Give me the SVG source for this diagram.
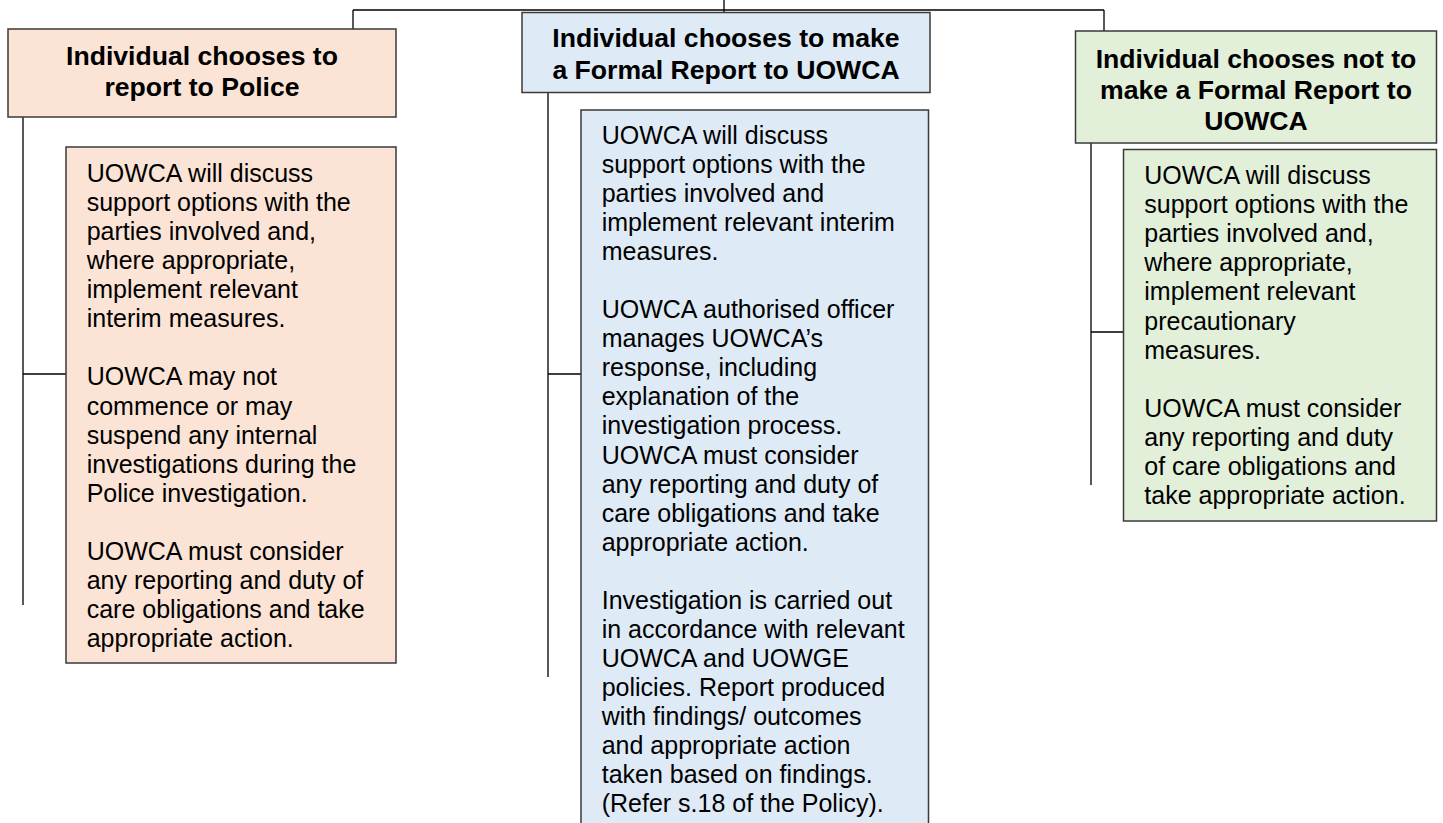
<svg xmlns="http://www.w3.org/2000/svg" width="1443" height="823" viewBox="0 0 1443 823">
<style>
.box{stroke:#3a3a3a;stroke-width:1.5}
.peach{fill:#FBE4D5}
.blue{fill:#DEEAF6}
.green{fill:#E2EFD9}
.hd{font-family:"Liberation Sans",Arial,sans-serif;font-weight:bold;font-size:26.6px;fill:#000;text-anchor:middle}
.bd{font-family:"Liberation Sans",Arial,sans-serif;font-size:25px;fill:#000}
.conn{stroke:#000;stroke-width:1.3;fill:none}
</style>
<rect width="1443" height="823" fill="#fff"/>
<g id="connectors">
<path class="conn" d="M353,10 H1104 M353,10 V29 M724,0 V12 M1104,10 V31"/>
<path class="conn" d="M23,117 V605 M23,374 H66"/>
<path class="conn" d="M548,93 V677 M548,374 H581"/>
<path class="conn" d="M1091,143 V485 M1091,332 H1123"/>
</g>
<g id="police-header">
<rect class="box peach" x="8" y="29" width="388" height="88"/>
<text class="hd"><tspan x="202" y="65">Individual chooses to</tspan><tspan x="202" y="95.7">report to Police</tspan></text>
</g>
<g id="police-body">
<rect class="box peach" x="66" y="147" width="330" height="516"/>
<text class="bd">
<tspan x="86.7" y="181.7">UOWCA will discuss</tspan>
<tspan x="86.7" dy="29.1">support options with the</tspan>
<tspan x="86.7" dy="29.1">parties involved and,</tspan>
<tspan x="86.7" dy="29.1">where appropriate,</tspan>
<tspan x="86.7" dy="29.1">implement relevant</tspan>
<tspan x="86.7" dy="29.1">interim measures.</tspan>
<tspan x="86.7" dy="58.2">UOWCA may not</tspan>
<tspan x="86.7" dy="29.1">commence or may</tspan>
<tspan x="86.7" dy="29.1">suspend any internal</tspan>
<tspan x="86.7" dy="29.1">investigations during the</tspan>
<tspan x="86.7" dy="29.1">Police investigation.</tspan>
<tspan x="86.7" dy="58.2">UOWCA must consider</tspan>
<tspan x="86.7" dy="29.1">any reporting and duty of</tspan>
<tspan x="86.7" dy="29.1">care obligations and take</tspan>
<tspan x="86.7" dy="29.1">appropriate action.</tspan>
</text>
</g>
<g id="formal-header">
<rect class="box blue" x="522" y="12.5" width="408" height="80"/>
<text class="hd"><tspan x="726" y="47">Individual chooses to make</tspan><tspan x="726" y="79">a Formal Report to UOWCA</tspan></text>
</g>
<g id="formal-body">
<rect class="box blue" x="581" y="110" width="347.5" height="730"/>
<text class="bd">
<tspan x="601.7" y="144">UOWCA will discuss</tspan>
<tspan x="601.7" dy="29.05">support options with the</tspan>
<tspan x="601.7" dy="29.05">parties involved and</tspan>
<tspan x="601.7" dy="29.05">implement relevant interim</tspan>
<tspan x="601.7" dy="29.05">measures.</tspan>
<tspan x="601.7" dy="58.1">UOWCA authorised officer</tspan>
<tspan x="601.7" dy="29.05">manages UOWCA’s</tspan>
<tspan x="601.7" dy="29.05">response, including</tspan>
<tspan x="601.7" dy="29.05">explanation of the</tspan>
<tspan x="601.7" dy="29.05">investigation process.</tspan>
<tspan x="601.7" dy="29.05">UOWCA must consider</tspan>
<tspan x="601.7" dy="29.05">any reporting and duty of</tspan>
<tspan x="601.7" dy="29.05">care obligations and take</tspan>
<tspan x="601.7" dy="29.05">appropriate action.</tspan>
<tspan x="601.7" dy="58.1">Investigation is carried out</tspan>
<tspan x="601.7" dy="29.05">in accordance with relevant</tspan>
<tspan x="601.7" dy="29.05">UOWCA and UOWGE</tspan>
<tspan x="601.7" dy="29.05">policies. Report produced</tspan>
<tspan x="601.7" dy="29.05">with findings/ outcomes</tspan>
<tspan x="601.7" dy="29.05">and appropriate action</tspan>
<tspan x="601.7" dy="29.05">taken based on findings.</tspan>
<tspan x="601.7" dy="29.05">(Refer s.18 of the Policy).</tspan>
</text>
</g>
<g id="informal-header">
<rect class="box green" x="1075.5" y="31" width="361" height="112"/>
<text class="hd"><tspan x="1256" y="68.3">Individual chooses not to</tspan><tspan x="1256" y="99.2">make a Formal Report to</tspan><tspan x="1256" y="130">UOWCA</tspan></text>
</g>
<g id="informal-body">
<rect class="box green" x="1123.5" y="149.5" width="313" height="371.5"/>
<text class="bd">
<tspan x="1144.3" y="184">UOWCA will discuss</tspan>
<tspan x="1144.3" dy="29.1">support options with the</tspan>
<tspan x="1144.3" dy="29.1">parties involved and,</tspan>
<tspan x="1144.3" dy="29.1">where appropriate,</tspan>
<tspan x="1144.3" dy="29.1">implement relevant</tspan>
<tspan x="1144.3" dy="29.1">precautionary</tspan>
<tspan x="1144.3" dy="29.1">measures.</tspan>
<tspan x="1144.3" dy="58.2">UOWCA must consider</tspan>
<tspan x="1144.3" dy="29.1">any reporting and duty</tspan>
<tspan x="1144.3" dy="29.1">of care obligations and</tspan>
<tspan x="1144.3" dy="29.1">take appropriate action.</tspan>
</text>
</g>
</svg>
